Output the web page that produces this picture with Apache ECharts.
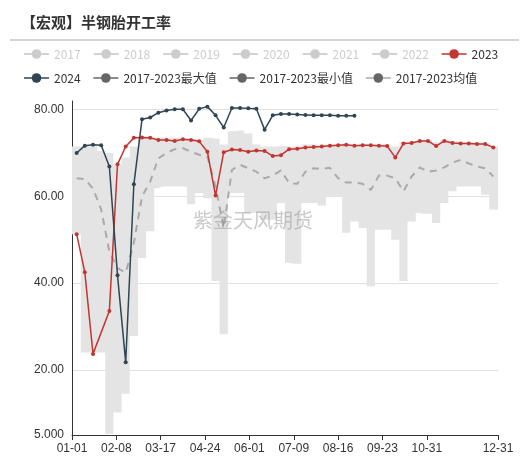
<!DOCTYPE html>
<html>
<head>
<meta charset="utf-8">
<script src="https://cdn.jsdelivr.net/npm/echarts@6/dist/echarts.min.js"></script>
<style>html,body{margin:0;padding:0;background:#fff}#main{width:529px;height:460px}</style>
</head>
<body>
<div id="main"></div>
<script>
// weekly readings, week k sits on day 4 + 7k of the year
const y2023 = [51.3, 42.5, 23.7, null, 33.6, 67.4, 71.5, 73.5, 73.6, 73.5, 73.0, 73.0, 72.8, 73.2, 73.0, 72.7,
  70.3, 60.2, 70.2, 70.8, 70.7, 70.3, 70.6, 70.5, 69.3, 69.5, 70.9, 71.0, 71.3, 71.4, 71.5, 71.7, 71.8, 71.9,
  71.7, 71.8, 71.8, 71.7, 71.6, 69.0, 72.2, 72.3, 72.8, 72.8, 71.6, 72.8, 72.3, 72.2, 72.2, 72.1, 72.1, 71.3];
const y2024 = [70.0, 71.7, 71.9, 71.8, 66.9, 41.8, 21.8, 62.8, 77.8, 78.2, 79.3, 79.8, 80.1, 80.1, 77.5, 80.2,
  80.7, 78.7, 75.9, 80.4, 80.4, 80.3, 80.2, 75.4, 78.7, 79.0, 79.0, 78.9, 78.8, 78.7, 78.7, 78.7, 78.6, 78.6, 78.6];
const maxVals = [71.5, 71.5, 71.5, 70.5, 70, 67.4, 69, 71.5, 73.6, 73.6, 73.6, 73.5, 73.5, 73.3, 73.2, 73, 73.5,
  73.3, 72, 75, 75.2, 74.5, 72, 71.5, 71.5, 71.7, 71.5, 71.5, 72, 72, 72, 72, 72, 72, 72, 72, 72, 72, 72, 71.5,
  72.5, 72.8, 73, 73, 72.5, 73, 72.8, 72.5, 72.5, 72.3, 72.3, 71.5];
const minVals = [51.3, 24, 24, 24, 5.3, 10.2, 14.5, 27.8, 45.8, 52, 61.9, 62.3, 62.3, 62.3, 58.2, 60.8, 59.6,
  40.5, 28.2, 60.8, 60.8, 56.2, 56.2, 54.6, 54.6, 58.5, 44.7, 44.5, 58.5, 58.5, 57.9, 60, 60, 51.6, 54.2, 52.7,
  39.3, 52.3, 52.3, 50, 40.5, 54.2, 56.2, 56, 53.9, 58.5, 61.2, 62.3, 62.3, 62.3, 60.4, 57];
const meanVals = [64.2, 64, 61.8, 57, 47.3, 43.5, 42.4, 49.3, 60, 63.4, 68.8, 70, 70.9, 71.1, 70.3, 69.6, 69.2,
  62.3, 52.7, 66.1, 67.3, 66.5, 65.7, 64.2, 64.8, 66, 63.1, 62.9, 65.7, 66.5, 66.3, 66.6, 64.2, 63.2, 63.2, 62.9,
  61.5, 64.8, 64.8, 64.2, 61.2, 64.6, 66.7, 65.7, 66, 66.7, 67.8, 68.4, 67.6, 66.9, 66.5, 64.6];
const yTicks = [5, 20, 40, 60, 80];
const oldYears = ['2017', '2018', '2019', '2020', '2021', '2022'];

const days = [];
for (let d = 0; d < 366; d++) {
  const t = new Date(Date.UTC(2024, 0, 1 + d));
  days.push(String(t.getUTCMonth() + 1).padStart(2, '0') + '-' + String(t.getUTCDate()).padStart(2, '0'));
}
const shown = i => (i % 38 === 0 && i <= 304) || i === 365;
const weekly = arr => arr.map((v, k) => [4 + 7 * k, v]);
// band spans the whole year: hold the first/last week out to the axis ends
const bandDays = [0].concat(maxVals.map((v, k) => 4 + 7 * k), [365]);
const ext = arr => [arr[0]].concat(arr, [arr[arr.length - 1]]);
const minExt = ext(minVals), maxExt = ext(maxVals);

const chart = echarts.init(document.getElementById('main'));
const selected = {};
oldYears.forEach(y => selected[y] = false);

chart.setOption({
  animation: false,
  color: ['#c23531', '#2f4554'],
  title: {
    text: '【宏观】半钢胎开工率', left: 16, top: 10,
    textStyle: { fontSize: 15, fontWeight: 'bold', color: '#333', fontFamily: 'Noto Sans CJK SC' }
  },
  graphic: [{ type: 'line', shape: { x1: 10, y1: 40, x2: 519, y2: 40 }, style: { stroke: '#aaa', lineWidth: 1 } },
    { type: 'text', left: 193, top: 210, z: 100, style: { text: '紫金天风期货', fill: 'rgba(150,150,150,0.5)', font: '20px "Noto Sans CJK SC"' } }],
  legend: {
    left: 18, top: 43, width: 500, itemGap: 12, itemWidth: 25, itemHeight: 12,
    textStyle: { fontSize: 12, color: '#333', fontFamily: 'Noto Sans CJK SC' },
    inactiveColor: '#ccc', inactiveBorderColor: '#ccc',
    lineStyle: { opacity: 1, type: 'solid', width: 1.5 },
    selected: selected,
    data: oldYears.concat(['2023', '2024', '2017-2023最大值', '2017-2023最小值', '2017-2023均值'])
  },
  grid: { left: 72, right: 31, top: 101, bottom: 25 },
  xAxis: {
    type: 'category', data: days, boundaryGap: false,
    axisLine: { lineStyle: { color: '#333' } },
    axisTick: { interval: (i) => shown(i), alignWithLabel: true },
    axisLabel: { interval: (i) => shown(i), color: '#333', fontSize: 12, showMaxLabel: true }
  },
  yAxis: {
    type: 'value', min: 5, max: 82,
    axisLine: { show: true, lineStyle: { color: '#333' } },
    axisTick: { show: false, customValues: yTicks },
    axisLabel: { customValues: yTicks, color: '#333', fontSize: 12, formatter: v => Number(v).toPrecision(4) },
    splitLine: { lineStyle: { color: '#e0e0e0' } }
  },
  series: oldYears.map(y => ({ name: y, type: 'line', symbol: 'circle', data: [], itemStyle: { color: '#ccc' } })).concat([
    {
      name: '2017-2023最小值', type: 'line', stack: 'band', step: 'middle', symbol: 'circle', showSymbol: false,
      data: bandDays.map((d, i) => [d, minExt[i]]),
      itemStyle: { color: '#666' }, lineStyle: { opacity: 0, color: '#666' }, z: 1
    },
    {
      name: '2017-2023最大值', type: 'line', stack: 'band', step: 'middle', symbol: 'circle', showSymbol: false,
      data: bandDays.map((d, i) => [d, maxExt[i] - minExt[i]]),
      itemStyle: { color: '#666' }, lineStyle: { opacity: 0, color: '#666' },
      areaStyle: { color: '#e4e4e4', opacity: 1 }, z: 1
    },
    {
      name: '2017-2023均值', type: 'line', symbol: 'circle', showSymbol: false, data: weekly(meanVals),
      itemStyle: { color: '#666' }, lineStyle: { color: '#aaa', type: [7, 6], width: 2 }, z: 2
    },
    {
      name: '2023', type: 'line', data: weekly(y2023), connectNulls: true, symbol: 'circle', symbolSize: 4,
      showAllSymbol: true, itemStyle: { color: '#c23531' }, lineStyle: { width: 1.5 }, z: 3
    },
    {
      name: '2024', type: 'line', data: weekly(y2024), symbol: 'circle', symbolSize: 4,
      showAllSymbol: true, itemStyle: { color: '#2f4554' }, lineStyle: { width: 1.5 }, z: 4
    }
  ])
});
</script>
</body>
</html>
